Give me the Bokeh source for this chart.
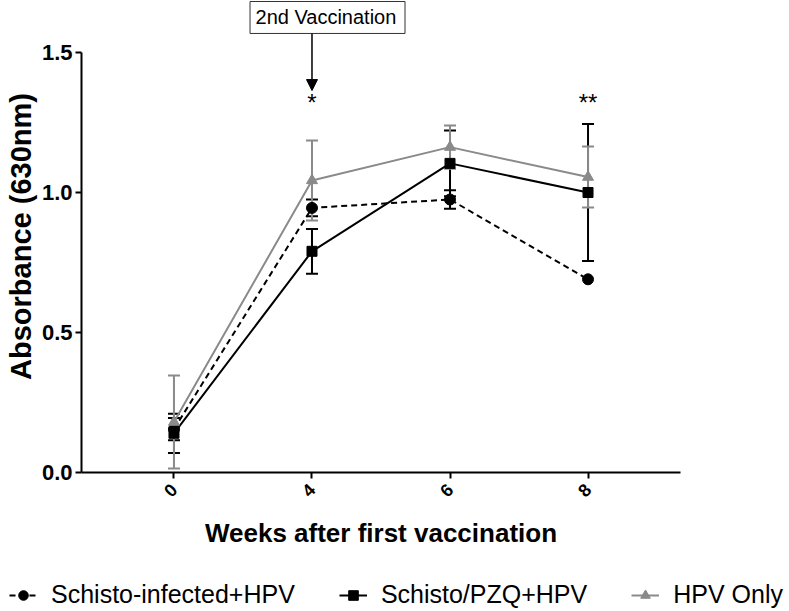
import math
from bokeh.plotting import figure
from bokeh.layouts import column
from bokeh.models import (FactorRange, ColumnDataSource, Whisker, TeeHead, Legend, LegendItem,
                          FixedTicker, Label, Arrow, NormalHead, BoxAnnotation, NumeralTickFormatter)
from bokeh.embed import file_html
from bokeh.resources import INLINE

# ---- data ----
weeks = ["0", "4", "6", "8"]
infected_mean = [0.155, 0.945, 0.975, 0.69]
infected_err = [0.04, 0.03, 0.033, 0.0]
pzq_mean = [0.14, 0.79, 1.104, 1.0]
pzq_err = [0.07, 0.08, 0.117, 0.245]
hpv_mean = [0.18, 1.043, 1.162, 1.055]
hpv_err = [0.166, 0.143, 0.077, 0.109]
series_names = ["Schisto-infected+HPV", "Schisto/PZQ+HPV", "HPV Only"]
y_ticks = [0.0, 0.5, 1.0, 1.5]
sig_weeks = ["4", "8"]
sig_marks = ["*", "**"]
annotation_text = "2nd Vaccination"

FONT = "Liberation Sans"
GREY = "#8a8a8a"
Y_TOP = 1.6857

p = figure(width=789, height=560, output_backend="svg", toolbar_location=None,
           x_range=FactorRange(factors=weeks, range_padding=0.085),
           y_range=(0, Y_TOP),
           min_border_left=81, min_border_right=109, min_border_top=0, min_border_bottom=88)
p.outline_line_color = None
p.xgrid.grid_line_color = None
p.ygrid.grid_line_color = None
p.background_fill_color = "white"
p.border_fill_color = "white"

# axes
xa = p.xaxis[0]
xa.axis_label = "Weeks after first vaccination"
xa.axis_label_text_font = FONT
xa.axis_label_text_font_style = "bold"
xa.axis_label_text_font_size = "26px"
xa.axis_label_text_color = "black"
xa.axis_label_standoff = 12
xa.major_label_text_font = FONT
xa.major_label_text_font_style = "bold"
xa.major_label_text_font_size = "18px"
xa.major_label_text_color = "black"
xa.major_label_orientation = math.pi / 4
xa.major_label_standoff = 8
xa.axis_line_width = 2
xa.axis_line_color = "black"
xa.major_tick_line_width = 2
xa.major_tick_line_color = "black"
xa.major_tick_out = 6
xa.major_tick_in = 0
xa.minor_tick_line_color = None

ya = p.yaxis[0]
ya.axis_label = "Absorbance (630nm)"
ya.axis_label_text_font = FONT
ya.axis_label_text_font_style = "bold"
ya.axis_label_text_font_size = "29px"
ya.axis_label_text_color = "black"
ya.axis_label_standoff = 2
ya.ticker = FixedTicker(ticks=y_ticks)
ya.formatter = NumeralTickFormatter(format="0.0")
ya.major_label_text_font = FONT
ya.major_label_text_font_style = "bold"
ya.major_label_text_font_size = "22px"
ya.major_label_text_color = "black"
ya.major_label_standoff = 3
ya.axis_line_width = 2
ya.axis_line_color = "black"
ya.major_tick_line_width = 2
ya.major_tick_line_color = "black"
ya.major_tick_out = 6
ya.major_tick_in = 0
ya.minor_tick_line_color = None
ya.bounds = (0, 1.5)

series = [
    (infected_mean, infected_err, "black", "6 4", "circle", 11),
    (pzq_mean, pzq_err, "black", "solid", "square", 10),
    (hpv_mean, hpv_err, GREY, "solid", "triangle", 11),
]

# legend-only strip below the chart
lf = figure(width=789, height=51, output_backend="svg", toolbar_location=None,
            x_axis_type=None, y_axis_type=None, x_range=(0, 1), y_range=(0, 1),
            min_border=0)
lf.frame_align = False
lf.outline_line_color = None
lf.xgrid.grid_line_color = None
lf.ygrid.grid_line_color = None

items = []
for name, (mean, err, color, dash, marker, size) in zip(series_names, series):
    wx = [w for w, e in zip(weeks, err) if e > 0]
    up = [m + e for m, e in zip(mean, err) if e > 0]
    lo = [m - e for m, e in zip(mean, err) if e > 0]
    wsrc = ColumnDataSource(dict(x=wx, upper=up, lower=lo))
    wh = Whisker(source=wsrc, base="x", upper="upper", lower="lower",
                 line_color=color, line_width=2,
                 upper_head=TeeHead(size=12, line_color=color, line_width=2),
                 lower_head=TeeHead(size=12, line_color=color, line_width=2))
    p.add_layout(wh)
    src = ColumnDataSource(dict(x=weeks, y=mean))
    p.line("x", "y", source=src, line_color=color, line_width=2, line_dash=dash)
    p.scatter("x", "y", source=src, marker=marker, size=size,
              fill_color=color, line_color=color)
    # legend glyph renderers (same style, a placeholder point outside the strip's view)
    esrc = ColumnDataSource(dict(x=[-5, -4], y=[-5, -5]))
    lln = lf.line("x", "y", source=esrc, line_color=color, line_width=2, line_dash=dash)
    lsc = lf.scatter("x", "y", source=esrc, marker=marker, size=size,
                     fill_color=color, line_color=color)
    items.append(LegendItem(label=name, renderers=[lln, lsc]))

legend = Legend(items=items, orientation="horizontal", location=(9, 2),
                border_line_color=None, background_fill_alpha=0,
                padding=0, margin=0, spacing=44, glyph_width=28, glyph_height=24,
                label_standoff=14, label_text_font=FONT, label_text_font_size="25px",
                label_text_color="black")
lf.add_layout(legend, "center")

# significance marks
for w, m in zip(sig_weeks, sig_marks):
    xc = weeks.index(w) + 0.5
    p.add_layout(Label(x=xc, y=1.322, text=m, text_align="center", text_baseline="middle",
                       text_font=FONT, text_font_size="24px", text_color="black"))

# annotation box with arrow
p.add_layout(BoxAnnotation(left=1.051, right=2.174, top=Y_TOP - 1 / 280, bottom=1.568,
                           fill_color="white", fill_alpha=1.0,
                           line_color="#333333", line_width=1, line_alpha=1.0))
p.add_layout(Label(x=1.601, y=1.625, text=annotation_text, text_align="center",
                   text_baseline="middle", text_font=FONT, text_font_size="20px",
                   text_color="black"))
xa4 = weeks.index("4") + 0.5
p.add_layout(Arrow(x_start=xa4, y_start=1.568, x_end=xa4, y_end=1.364, line_width=1.5,
                   line_color="black",
                   end=NormalHead(size=11, fill_color="black", line_color="black")))

layout = column(p, lf, spacing=0)
open("out.html", "w").write(file_html(layout, INLINE))
